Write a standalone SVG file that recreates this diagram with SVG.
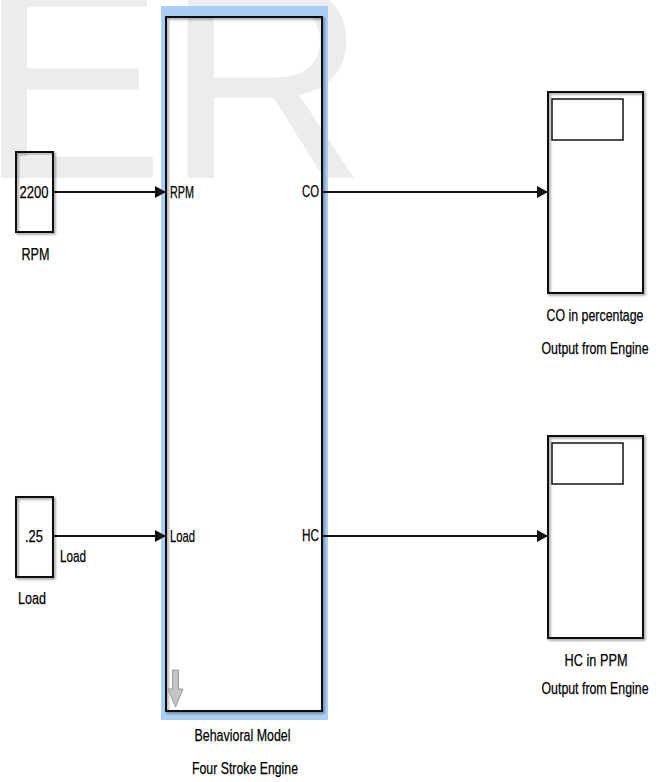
<svg xmlns="http://www.w3.org/2000/svg" width="660" height="782" viewBox="0 0 660 782">
<style>
.wm{font-family:"Liberation Sans",Arial,sans-serif;font-size:280px;fill:#ececec}
.t{font-family:"Liberation Sans",Arial,sans-serif;font-size:17px;fill:#000;stroke:#000;stroke-width:0.25}
.m{text-anchor:middle}
.e{text-anchor:end}
.blk{fill:none;stroke:#111;stroke-width:2}
.ln{fill:none;stroke:#111;stroke-width:2}
</style>
<defs>
<filter id="sh" x="-20%" y="-20%" width="140%" height="140%">
<feDropShadow dx="1.5" dy="1.5" stdDeviation="1" flood-color="#000" flood-opacity="0.45"/>
</filter>
<marker id="ah" markerUnits="userSpaceOnUse" markerWidth="12" markerHeight="12" refX="11" refY="6" orient="auto">
<path d="M0,0 L11,6 L0,12 Z" fill="#111"/>
</marker>
</defs>
<rect width="660" height="782" fill="#fff"/>
<text class="wm" x="-22" y="178">ER</text>

<g id="const_rpm">
<rect class="blk" x="16" y="152" width="37" height="80" filter="url(#sh)"/>
<text class="t m" x="34" y="198" textLength="29" lengthAdjust="spacingAndGlyphs">2200</text>
<text class="t m" x="35.5" y="260" textLength="28" lengthAdjust="spacingAndGlyphs">RPM</text>
</g>

<g id="const_load">
<rect class="blk" x="16" y="497" width="37" height="80" filter="url(#sh)"/>
<text class="t m" x="34" y="542" textLength="18" lengthAdjust="spacingAndGlyphs">.25</text>
<text class="t m" x="32" y="604" textLength="28" lengthAdjust="spacingAndGlyphs">Load</text>
</g>

<g id="engine">
<path d="M161,6 H328 V720 H161 Z M166,17 V711 H322 V17 Z" fill="#a9cff5" fill-rule="evenodd"/>
<rect class="blk" x="166" y="17" width="156" height="694" filter="url(#sh)"/>
<text class="t" x="170" y="198" textLength="24" lengthAdjust="spacingAndGlyphs">RPM</text>
<text class="t" x="170" y="542" textLength="25" lengthAdjust="spacingAndGlyphs">Load</text>
<text class="t e" x="319" y="197" textLength="17" lengthAdjust="spacingAndGlyphs">CO</text>
<text class="t e" x="319" y="541" textLength="17" lengthAdjust="spacingAndGlyphs">HC</text>
<path d="M172.5,670 H178.5 V689 H183 L175.5,707 L168,689 H172.5 Z" fill="#c4c4c4" stroke="#9a9a9a" stroke-width="1"/>
<text class="t m" x="242.5" y="741" textLength="96" lengthAdjust="spacingAndGlyphs">Behavioral Model</text>
<text class="t m" x="245" y="774" textLength="106" lengthAdjust="spacingAndGlyphs">Four Stroke Engine</text>
</g>

<g id="scope_co">
<rect class="blk" x="548" y="92" width="95" height="201" filter="url(#sh)"/>
<rect x="552" y="99" width="71" height="41" fill="none" stroke="#111" stroke-width="1.5"/>
<text class="t m" x="595" y="321" textLength="97" lengthAdjust="spacingAndGlyphs">CO in percentage</text>
<text class="t m" x="595" y="354" textLength="107" lengthAdjust="spacingAndGlyphs">Output from Engine</text>
</g>

<g id="scope_hc">
<rect class="blk" x="548" y="436" width="95" height="202" filter="url(#sh)"/>
<rect x="552" y="443" width="71" height="41" fill="none" stroke="#111" stroke-width="1.5"/>
<text class="t m" x="596" y="666" textLength="63" lengthAdjust="spacingAndGlyphs">HC in PPM</text>
<text class="t m" x="595" y="694" textLength="107" lengthAdjust="spacingAndGlyphs">Output from Engine</text>
</g>

<g id="connectors">
<path class="ln" d="M54,192 H166" marker-end="url(#ah)"/>
<path class="ln" d="M54,536 H166" marker-end="url(#ah)"/>
<path class="ln" d="M323,192 H548" marker-end="url(#ah)"/>
<path class="ln" d="M323,536 H548" marker-end="url(#ah)"/>
<text class="t" x="60" y="562" textLength="26" lengthAdjust="spacingAndGlyphs">Load</text>
</g>
</svg>
